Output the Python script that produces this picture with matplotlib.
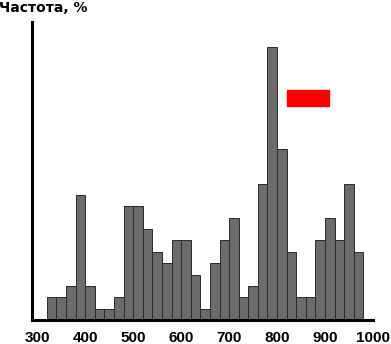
import matplotlib.pyplot as plt
from matplotlib.patches import Rectangle

bin_edges = [320 + 20 * i for i in range(34)]
counts = [2, 2, 3, 11, 3, 1, 1, 2, 10, 10, 8, 6, 5, 7, 7, 4, 1,
          5, 7, 9, 2, 3, 12, 24, 15, 6, 2, 2, 7, 9, 7, 12, 6]
xticks = [300, 400, 500, 600, 700, 800, 900, 1000]

plt.rcParams['font.family'] = ['Liberation Sans', 'DejaVu Sans']

fig = plt.figure(figsize=(3.91, 3.44), dpi=100)
ax = fig.add_axes([0.083, 0.0698, 0.871, 0.866])

ax.bar(bin_edges[:-1], counts, width=20, align='edge',
       color='#6b6b6b', edgecolor='#2a2a2a', linewidth=0.7)

# red marker (legend-like box)
ax.add_patch(Rectangle((820, 18.8), 89, 1.4, color='#ff0000'))

ax.set_xlim(290, 1000)
ax.set_ylim(0, 26.2)
ax.set_xticks(xticks)
ax.set_xticklabels([str(t) for t in xticks], fontweight='bold', fontsize=11)
ax.tick_params(axis='x', length=0, pad=8)
ax.set_yticks([])

for s in ['top', 'right']:
    ax.spines[s].set_visible(False)
for s in ['left', 'bottom']:
    ax.spines[s].set_linewidth(2.2)
    ax.spines[s].set_color('black')

fig.text(-0.003, 0.978, 'Частота, %', fontsize=10, fontweight='bold',
         family='DejaVu Sans', ha='left', va='center')

fig.savefig('out.png', dpi=100)
